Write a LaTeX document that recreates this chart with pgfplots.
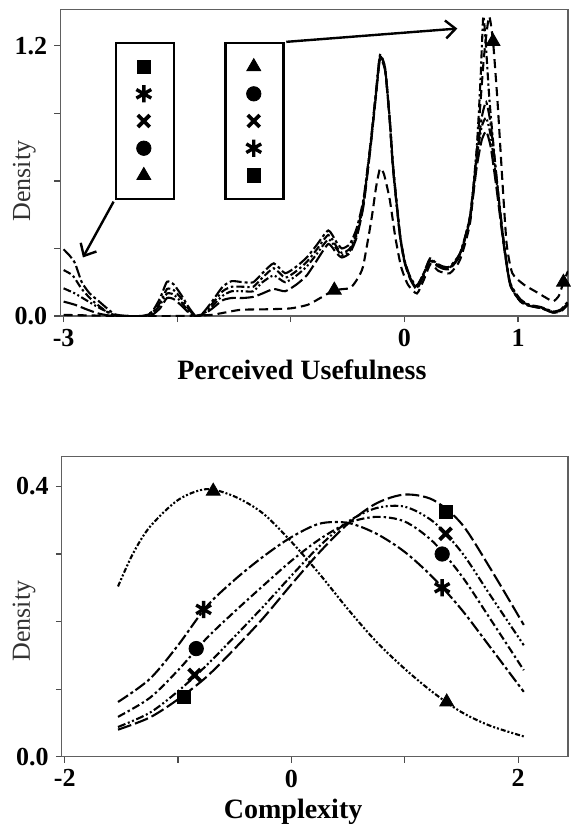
\documentclass[border=0pt]{standalone}
\usepackage{fontspec}
\setmainfont{Liberation Serif}
\usepackage{pgfplots}
\pgfplotsset{compat=1.18}
\usetikzlibrary{arrows.meta}

% line styles of the five groups
\tikzset{
  lsq/.style={dash pattern=on 7pt off 2pt},
  last/.style={dash pattern=on 6pt off 1.5pt on 1.5pt off 1.5pt},
  lx/.style={dash pattern=on 4pt off 1.3pt on 1pt off 1.3pt on 1pt off 1.3pt},
  lci/.style={dash pattern=on 4pt off 1.5pt on 1.2pt off 1.5pt},
  ltri/.style={dash pattern=on 4.5pt off 2.5pt},
  ltrib/.style={dash pattern=on 2.5pt off 1pt on 1pt off 1pt on 1pt off 1pt},
}
\pgfplotsset{
  panel/.style={
    scale only axis, anchor=south west,
    axis line style={gray!75!black, line width=0.6pt},
    tick align=outside, major tick length=3pt,
    tick style={gray!60!black, line width=0.6pt},
    xtick pos=bottom, ytick pos=left,
    ticklabel style={font=\fontsize{13}{13}\selectfont\bfseries},
    xlabel style={font=\fontsize{14}{14}\selectfont\bfseries, anchor=center},
    ylabel style={font=\fontsize{13}{13}\selectfont, text=black!80, anchor=center},
    every axis plot/.append style={line width=1.05pt, black},
    legend image code/.code={\draw[##1] plot coordinates {(0pt,0pt)};
      \path[draw=none, fill=none] (-14pt,-6.8pt) rectangle (14pt,6.8pt);},
  },
  boxlegend/.style={
    legend style={draw=black, line width=1.3pt, fill=white,
      inner xsep=0pt, inner ysep=5pt, row sep=0pt,
      nodes={inner sep=0pt, draw=none}, anchor=north west,
      /tikz/every even column/.style={column sep=0pt}},
  },
  msq/.style={only marks, mark=square*, mark size=3.3pt, mark options={solid, fill=black, line width=0.4pt}},
  mast/.style={only marks, mark=asterisk, mark size=4.3pt, mark options={solid, line width=1.7pt}},
  mx/.style={only marks, mark=x, mark size=4.2pt, mark options={solid, line width=1.9pt}},
  mci/.style={only marks, mark=*, mark size=3.6pt, mark options={solid, fill=black, line width=0.4pt}},
  mtri/.style={only marks, mark=triangle*, mark size=4pt, mark options={solid, fill=black, line width=0.4pt}},
}

\begin{document}
\begin{tikzpicture}
\path[use as bounding box] (0,0) rectangle (285pt,413.5pt);

% ---------------- Perceived Usefulness ----------------
\begin{axis}[panel,
  at={(30.1pt,255.5pt)}, width=253.9pt, height=153.4pt,
  xmin=-3.03, xmax=1.44, ymin=0, ymax=1.363,
  xtick={-3,-2,-1,0,1}, xticklabels={-3,,,0,1},
  ytick={0,0.3,0.6,0.9,1.2}, yticklabels={0.0,,,,1.2},
  xlabel={Perceived Usefulness},
  xlabel style={at={(axis description cs:0.476,0)}, yshift=-27pt},
  ylabel={Density},
  ylabel style={at={(axis description cs:-0.0705,0.44)}},
  boxlegend,
  legend style={at={(axis description cs:0.107,0.894)}},
]
\addlegendimage{msq}\addlegendentry{}
\addlegendimage{mast}\addlegendentry{}
\addlegendimage{mx}\addlegendentry{}
\addlegendimage{mci}\addlegendentry{}
\addlegendimage{mtri}\addlegendentry{}

% square
\addplot[lsq, smooth, tension=0.35] coordinates {
(-3.0,0.064)(-2.9,0.05)(-2.8,0.03)(-2.7,0.012)(-2.6,0.002)(-2.5,0)(-2.3,0)(-2.22,0.005)
(-2.15,0.035)(-2.09,0.08)(-2.03,0.075)(-1.96,0.045)(-1.9,0.015)(-1.84,0)(-1.78,0.004)
(-1.7,0.03)(-1.6,0.07)(-1.52,0.08)(-1.42,0.08)(-1.33,0.085)(-1.25,0.1)(-1.15,0.12)
(-1.05,0.11)(-0.95,0.14)(-0.86,0.18)(-0.78,0.24)(-0.67,0.32)(-0.6,0.28)(-0.55,0.26)
(-0.48,0.28)(-0.42,0.35)(-0.36,0.49)(-0.3,0.74)(-0.25,0.98)(-0.215,1.14)(-0.17,1.09)
(-0.13,0.87)(-0.1,0.65)(-0.04,0.36)(0.0,0.24)(0.05,0.165)(0.108,0.12)(0.17,0.18)
(0.225,0.245)(0.28,0.225)(0.34,0.21)(0.40,0.21)(0.49,0.27)(0.577,0.43)(0.636,0.66)
(0.68,0.78)(0.72,0.82)(0.76,0.75)(0.81,0.57)(0.87,0.33)(0.93,0.14)(1.02,0.065)
(1.1,0.045)(1.2,0.035)(1.31,0.015)(1.38,0.022)(1.44,0.05)};
% asterisk
\addplot[last, smooth, tension=0.35] coordinates {
(-3.0,0.296)(-2.95,0.27)(-2.9,0.235)(-2.84,0.15)(-2.77,0.10)(-2.7,0.07)(-2.62,0.035)
(-2.55,0.008)(-2.45,0)(-2.3,0)(-2.22,0.02)(-2.15,0.08)(-2.09,0.152)(-2.03,0.14)
(-1.96,0.09)(-1.9,0.04)(-1.84,0.002)(-1.78,0.01)(-1.7,0.06)(-1.6,0.13)(-1.52,0.155)
(-1.42,0.15)(-1.33,0.15)(-1.25,0.19)(-1.15,0.234)(-1.05,0.19)(-0.95,0.22)(-0.86,0.26)
(-0.78,0.31)(-0.67,0.38)(-0.6,0.33)(-0.55,0.30)(-0.48,0.32)(-0.42,0.39)(-0.36,0.52)
(-0.3,0.76)(-0.25,1.0)(-0.215,1.16)(-0.17,1.10)(-0.13,0.88)(-0.1,0.67)(-0.04,0.37)
(0.0,0.25)(0.05,0.175)(0.108,0.135)(0.17,0.19)(0.225,0.256)(0.28,0.235)(0.34,0.22)
(0.40,0.22)(0.49,0.28)(0.577,0.44)(0.636,0.70)(0.68,0.88)(0.72,0.95)(0.76,0.85)
(0.81,0.62)(0.87,0.35)(0.93,0.15)(1.02,0.075)(1.1,0.05)(1.2,0.04)(1.31,0.02)
(1.38,0.03)(1.44,0.065)};
% x
\addplot[lx, smooth, tension=0.35] coordinates {
(-3.0,0.123)(-2.9,0.10)(-2.8,0.07)(-2.7,0.04)(-2.6,0.015)(-2.52,0)(-2.3,0)(-2.22,0.01)
(-2.15,0.05)(-2.09,0.10)(-2.03,0.095)(-1.96,0.06)(-1.9,0.02)(-1.84,0)(-1.78,0.005)
(-1.7,0.04)(-1.6,0.09)(-1.52,0.11)(-1.42,0.11)(-1.33,0.11)(-1.25,0.15)(-1.15,0.18)
(-1.05,0.15)(-0.95,0.18)(-0.86,0.22)(-0.78,0.27)(-0.67,0.34)(-0.6,0.30)(-0.55,0.27)
(-0.48,0.29)(-0.42,0.36)(-0.36,0.50)(-0.3,0.75)(-0.25,0.99)(-0.215,1.15)(-0.17,1.10)
(-0.13,0.88)(-0.1,0.66)(-0.04,0.36)(0.0,0.245)(0.05,0.17)(0.108,0.13)(0.17,0.19)
(0.225,0.25)(0.28,0.23)(0.34,0.215)(0.40,0.215)(0.49,0.275)(0.577,0.44)(0.636,0.70)
(0.68,0.84)(0.72,0.88)(0.76,0.80)(0.81,0.60)(0.87,0.34)(0.93,0.145)(1.02,0.07)
(1.1,0.048)(1.2,0.038)(1.31,0.018)(1.38,0.026)(1.44,0.058)};
% circle
\addplot[lci, smooth, tension=0.35] coordinates {
(-3.0,0.204)(-2.92,0.18)(-2.84,0.12)(-2.75,0.07)(-2.65,0.03)(-2.57,0.005)(-2.45,0)
(-2.3,0)(-2.22,0.015)(-2.15,0.06)(-2.09,0.12)(-2.03,0.115)(-1.96,0.075)(-1.9,0.03)
(-1.84,0)(-1.78,0.008)(-1.7,0.05)(-1.6,0.11)(-1.52,0.13)(-1.42,0.13)(-1.33,0.13)
(-1.25,0.17)(-1.15,0.212)(-1.05,0.17)(-0.95,0.20)(-0.86,0.24)(-0.78,0.29)(-0.67,0.36)
(-0.6,0.31)(-0.55,0.28)(-0.48,0.30)(-0.42,0.37)(-0.36,0.51)(-0.3,0.75)(-0.25,0.99)
(-0.215,1.15)(-0.17,1.10)(-0.13,0.88)(-0.1,0.66)(-0.04,0.365)(0.0,0.245)(0.05,0.17)
(0.108,0.125)(0.17,0.185)(0.225,0.25)(0.28,0.23)(0.34,0.215)(0.40,0.215)(0.49,0.275)
(0.577,0.44)(0.636,0.74)(0.67,1.05)(0.694,1.33)(0.715,1.22)(0.75,0.95)(0.81,0.62)
(0.87,0.34)(0.93,0.14)(1.02,0.065)(1.1,0.045)(1.2,0.035)(1.31,0.015)(1.38,0.025)
(1.44,0.055)};
% triangle
\addplot[ltri, smooth, tension=0.35] coordinates {
(-3.0,0.005)(-2.5,0.0)(-2.0,0.0)(-1.7,0.005)(-1.45,0.027)(-1.2,0.03)(-1.0,0.034)
(-0.85,0.05)(-0.72,0.086)(-0.617,0.115)(-0.48,0.124)(-0.42,0.16)(-0.364,0.22)
(-0.29,0.43)(-0.25,0.57)(-0.215,0.655)(-0.18,0.63)(-0.13,0.52)(-0.08,0.35)(-0.03,0.22)
(0.03,0.14)(0.11,0.10)(0.17,0.16)(0.23,0.23)(0.30,0.2)(0.40,0.19)(0.49,0.25)(0.58,0.42)
(0.64,0.75)(0.70,1.15)(0.745,1.33)(0.78,1.22)(0.82,0.95)(0.86,0.62)(0.9,0.32)
(0.95,0.19)(1.05,0.14)(1.15,0.11)(1.25,0.08)(1.31,0.065)(1.36,0.09)(1.40,0.15)(1.44,0.2)};
\addplot[mtri] coordinates {(-0.617,0.115)(0.78,1.22)(1.40,0.15)};

% call-out arrows
\draw[line width=1.2pt, -{Straight Barb[length=5pt,width=9pt]}]
  (axis cs:-2.56,0.508) -- (axis cs:-2.83,0.26);
\draw[line width=1.2pt, -{Straight Barb[length=5pt,width=9pt]}]
  (axis cs:-1.04,1.218) -- (axis cs:0.466,1.277);
\end{axis}

% second call-out box (reverse order)
\begin{axis}[panel, hide axis,
  at={(30.1pt,255.5pt)}, width=253.9pt, height=153.4pt,
  xmin=-3.03, xmax=1.44, ymin=0, ymax=1.363,
  boxlegend,
  legend style={at={(axis description cs:0.3235,0.894)}},
]
\addlegendimage{mtri}\addlegendentry{}
\addlegendimage{mci}\addlegendentry{}
\addlegendimage{mx}\addlegendentry{}
\addlegendimage{mast}\addlegendentry{}
\addlegendimage{msq}\addlegendentry{}
\end{axis}

% ---------------- Complexity ----------------
\begin{axis}[panel,
  at={(30.9pt,35.15pt)}, width=253.1pt, height=150pt,
  xmin=-2.026, xmax=2.44, ymin=0, ymax=0.444,
  xtick={-2,-1,0,1,2}, xticklabels={-2,,0,,2},
  ytick={0,0.1,0.2,0.3,0.4}, yticklabels={0.0,,,,0.4},
  xlabel={Complexity},
  xlabel style={at={(axis description cs:0.457,0)}, yshift=-27.5pt},
  ylabel={Density},
  ylabel style={at={(axis description cs:-0.0747,0.452)}},
]
% square
\addplot[lsq, smooth] coordinates {
(-1.53,0.040)(-1.25,0.058)(-1.0,0.085)(-0.75,0.118)(-0.5,0.160)(-0.25,0.205)(0.0,0.255)
(0.25,0.303)(0.5,0.345)(0.75,0.375)(1.0,0.388)(1.25,0.38)(1.5,0.345)(1.75,0.28)(2.05,0.195)};
% x
\addplot[lx, smooth] coordinates {
(-1.53,0.044)(-1.25,0.065)(-1.0,0.097)(-0.75,0.135)(-0.5,0.178)(-0.25,0.222)(0.0,0.268)
(0.25,0.312)(0.5,0.348)(0.75,0.368)(1.0,0.37)(1.25,0.348)(1.5,0.303)(1.75,0.24)(2.05,0.165)};
% circle
\addplot[lci, smooth] coordinates {
(-1.53,0.059)(-1.25,0.087)(-1.0,0.128)(-0.75,0.175)(-0.5,0.215)(-0.25,0.253)(0.0,0.29)
(0.25,0.322)(0.5,0.346)(0.75,0.355)(1.0,0.348)(1.25,0.318)(1.5,0.268)(1.75,0.205)(2.05,0.128)};
% asterisk
\addplot[last, smooth] coordinates {
(-1.53,0.081)(-1.25,0.115)(-1.0,0.165)(-0.75,0.222)(-0.5,0.262)(-0.25,0.296)(0.0,0.325)
(0.25,0.345)(0.5,0.346)(0.75,0.33)(1.0,0.303)(1.25,0.265)(1.5,0.218)(1.75,0.163)(2.05,0.096)};
% triangle
\addplot[ltrib, smooth] coordinates {
(-1.53,0.252)(-1.4,0.30)(-1.25,0.34)(-1.0,0.38)(-0.75,0.396)(-0.5,0.385)(-0.25,0.36)
(0.0,0.318)(0.25,0.27)(0.5,0.218)(0.75,0.17)(1.0,0.13)(1.25,0.095)(1.5,0.066)
(1.75,0.046)(2.05,0.030)};
\addplot[msq] coordinates {(-0.95,0.089)(1.36,0.362)};
\addplot[mx] coordinates {(-0.855,0.121)(1.36,0.330)};
\addplot[mci] coordinates {(-0.84,0.160)(1.33,0.300)};
\addplot[mast] coordinates {(-0.775,0.218)(1.33,0.250)};
\addplot[mtri] coordinates {(-0.69,0.393)(1.37,0.081)};
\end{axis}
\end{tikzpicture}
\end{document}
